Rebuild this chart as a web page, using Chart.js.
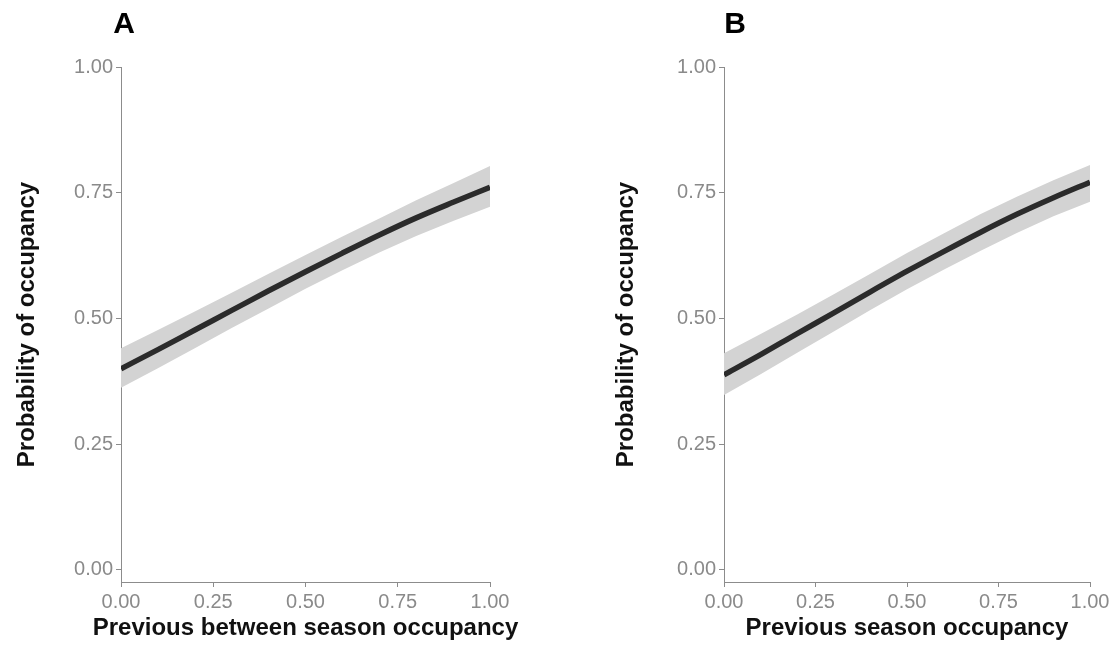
<!DOCTYPE html>
<html>
<head>
<meta charset="utf-8">
<script src="https://cdn.jsdelivr.net/npm/chart.js@4"></script>
<style>
  html, body { margin: 0; padding: 0; background: #fff; }
  #wrap { width: 1118px; height: 646px; display: flex; }
  .cell { width: 559px; height: 646px; position: relative; }
</style>
</head>
<body>
<div id="wrap">
  <div class="cell"><canvas id="chartA"></canvas></div>
  <div class="cell"><canvas id="chartB"></canvas></div>
</div>
<script>
  // x values shared by both panels
  const xVals = [0, 0.1, 0.2, 0.3, 0.4, 0.5, 0.6, 0.7, 0.8, 0.9, 1.0];
  const yTicks = [0, 0.25, 0.5, 0.75, 1.0];
  const xTicks = [0, 0.25, 0.5, 0.75, 1.0];

  // panel A - previous between season occupancy
  const aFit   = [0.400, 0.438, 0.477, 0.516, 0.555, 0.593, 0.630, 0.666, 0.700, 0.731, 0.761];
  const aLower = [0.362, 0.401, 0.441, 0.481, 0.520, 0.559, 0.596, 0.631, 0.664, 0.694, 0.722];
  const aUpper = [0.441, 0.477, 0.514, 0.551, 0.589, 0.626, 0.663, 0.699, 0.735, 0.769, 0.803];

  // panel B - previous season occupancy
  const bFit   = [0.388, 0.428, 0.470, 0.511, 0.553, 0.594, 0.633, 0.671, 0.707, 0.740, 0.771];
  const bLower = [0.348, 0.389, 0.432, 0.474, 0.517, 0.558, 0.597, 0.634, 0.670, 0.703, 0.732];
  const bUpper = [0.431, 0.469, 0.508, 0.548, 0.589, 0.630, 0.669, 0.707, 0.742, 0.775, 0.805];

  const fontFam = '"Liberation Sans", Arial, sans-serif';
  const tickGrey = '#8a8a8a';
  const axisGrey = '#8c8c8c';

  function pts(ys) {
    return xVals.map((x, i) => ({ x: x, y: ys[i] }));
  }

  // panel letter + x title drawn by hand so the title isn't squeezed to the axis width
  const panelText = {
    id: 'panelText',
    afterDraw(chart, args, opts) {
      const ctx = chart.ctx;
      const area = chart.chartArea;
      ctx.save();
      ctx.fillStyle = '#000';
      ctx.textAlign = 'center';
      ctx.textBaseline = 'middle';
      ctx.font = 'bold 30px ' + fontFam;
      ctx.fillText(opts.letter, area.left + opts.dx, 25);
      ctx.fillStyle = '#111';
      ctx.font = 'bold 24px ' + fontFam;
      ctx.fillText(opts.xTitle, (area.left + area.right) / 2, 628);
      ctx.restore();
    }
  };

  function makeChart(id, letter, letterDx, xTitle, fit, lower, upper, padLeft, yWidth, padRight) {
    const ctx = document.getElementById(id).getContext('2d');
    return new Chart(ctx, {
      type: 'line',
      data: {
        datasets: [
          {
            label: 'lower',
            data: pts(lower),
            borderWidth: 0,
            pointRadius: 0,
            fill: false,
            order: 2
          },
          {
            label: 'upper',
            data: pts(upper),
            borderWidth: 0,
            pointRadius: 0,
            backgroundColor: '#d3d3d3',
            fill: '-1',
            order: 1
          },
          {
            label: 'fit',
            data: pts(fit),
            borderColor: '#2b2b2b',
            borderWidth: 5.5,
            pointRadius: 0,
            fill: false,
            cubicInterpolationMode: 'monotone',
            order: 0
          }
        ]
      },
      options: {
        responsive: true,
        maintainAspectRatio: false,
        animation: false,
        layout: { padding: { left: padLeft, right: padRight, top: 67, bottom: 0 } },
        plugins: {
          legend: { display: false },
          tooltip: { enabled: false },
          panelText: { letter: letter, dx: letterDx, xTitle: xTitle }
        },
        scales: {
          x: {
            type: 'linear',
            min: 0,
            max: 1,
            afterBuildTicks: s => { s.ticks = xTicks.map(v => ({ value: v })); },
            afterFit: s => { s.height = 64; },
            grid: { drawOnChartArea: false, tickLength: 5, color: axisGrey },
            border: { display: true, color: axisGrey, width: 1 },
            ticks: {
              color: tickGrey,
              font: { family: fontFam, size: 20 },
              padding: 3,
              maxRotation: 0,
              callback: v => v.toFixed(2)
            }
          },
          y: {
            type: 'linear',
            min: -0.024,
            max: 1,
            afterBuildTicks: s => { s.ticks = yTicks.map(v => ({ value: v })); },
            afterFit: s => { s.width = yWidth; },
            grid: { drawOnChartArea: false, tickLength: 5, color: axisGrey },
            border: { display: true, color: axisGrey, width: 1 },
            ticks: {
              color: tickGrey,
              font: { family: fontFam, size: 20 },
              padding: 3,
              callback: v => v.toFixed(2)
            },
            title: {
              display: true,
              text: 'Probability of occupancy',
              color: '#111',
              font: { family: fontFam, size: 24, weight: 'bold' },
              padding: { top: 13, bottom: 0 }
            }
          }
        }
      },
      plugins: [panelText]
    });
  }

  makeChart('chartA', 'A', 3, 'Previous between season occupancy', aFit, aLower, aUpper, 0, 121, 69);
  makeChart('chartB', 'B', 11, 'Previous season occupancy', bFit, bLower, bUpper, 40, 125, 28);
</script>
</body>
</html>
